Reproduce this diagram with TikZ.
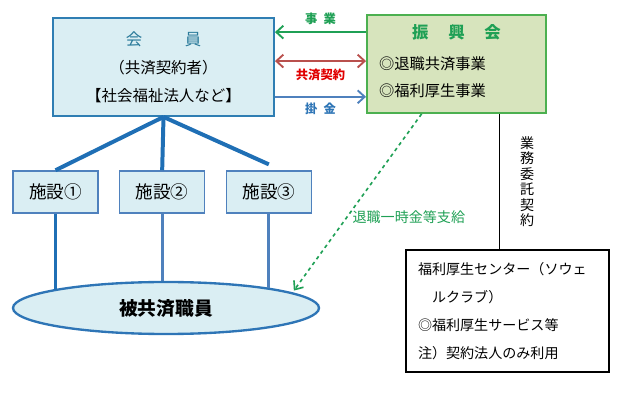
\documentclass[tikz,border=0pt]{standalone}
\usepackage{fontspec}
\setmainfont{Noto Sans CJK JP}
\usepackage{tikz}
\usetikzlibrary{positioning, arrows.meta,
shapes.geometric, % for the ellipse of the members
calc
}
\definecolor{kaiinfill}{HTML}{DAEEF3}
\definecolor{kaiinline}{HTML}{2F7EB3}
\definecolor{kaiintext}{HTML}{2A7A9A}
\definecolor{shinkofill}{HTML}{D7E4BD}
\definecolor{shinkoline}{HTML}{4CB050}
\definecolor{jigyogreen}{HTML}{1FA055}
\definecolor{keiyakured}{HTML}{B9504D}
\definecolor{keiyakutext}{HTML}{E00000}
\definecolor{kakeblue}{HTML}{4F81BD}
\definecolor{kaketext}{HTML}{2E75B6}
\definecolor{edablue}{HTML}{1F6FB5}

\begin{document}
\begin{tikzpicture}[x=0.03cm, y=-0.03cm, node distance=3.2cm,
    kaiinbox/.style={draw=kaiinline, fill=kaiinfill, line width=1.6pt, minimum width=6.63cm, minimum height=2.94cm, align=center, font=\fontsize{13.2}{23.8}\selectfont},
    shinkobox/.style={draw=shinkoline, fill=shinkofill, line width=1.6pt, minimum width=5.37cm, minimum height=2.94cm},
    shisetsubox/.style={draw=kakeblue, fill=kaiinfill, line width=1.3pt, minimum width=2.55cm, minimum height=1.26cm, font=\fontsize{15}{18}\selectfont},
    label/.style={font=\fontsize{10.5}{12}\selectfont\bfseries},
    barb/.style={-{Straight Barb[length=6pt, width=11pt]}, line width=1.6pt}
  ]
    \useasboundingbox (0,0) rectangle (637,401);

    \node[kaiinbox] (kaiin) at (163.5,67) {{\fontsize{14}{23.8}\selectfont\color{kaiintext}会\hspace{2.6em}員}\\（共済契約者）\\【社会福祉法人など】};
    \node[shinkobox] (shinko) at (456.5,64) {};
    \node[font=\fontsize{14}{16}\selectfont\bfseries, text=jigyogreen] (shinkotitle) at ([yshift=-15.3pt]shinko.north) {振\hspace{1.2em}興\hspace{1.2em}会};
    \node[anchor=west, inner sep=0pt, align=left, font=\fontsize{13}{23}\selectfont] (shinkoitems) at ([xshift=11pt, yshift=-11.5pt]shinko.west) {◎退職共済事業\\◎福利厚生事業};

    % arrows between the member box and the association
    \coordinate (jigyo) at ([yshift=27.2pt]shinko.west);
    \coordinate (keiyaku) at ([yshift=2.5pt]shinko.west);
    \coordinate (kakekin) at ([yshift=-28pt]shinko.west);
    \draw[barb, draw=jigyogreen] (jigyo) -- (jigyo -| kaiin.east) node[midway, above=2pt, label, text=jigyogreen] {事\hspace{0.5em}業};
    \draw[barb, {Straight Barb[length=6pt, width=11pt]}-{Straight Barb[length=6pt, width=11pt]}, draw=keiyakured] (keiyaku -| kaiin.east) -- (keiyaku) node[midway, below=3pt, label, text=keiyakutext] {共済契約};
    \draw[barb, draw=kakeblue] (kakekin -| kaiin.east) -- (kakekin) node[midway, below=1pt, label, text=kaketext] {掛\hspace{0.5em}金};

    \node[shisetsubox] (shisetsu1) at (55.5,192) {施設①};
    \node[shisetsubox, right of=shisetsu1] (shisetsu2) {施設②};
    \node[shisetsubox, right of=shisetsu2] (shisetsu3) {施設③};
    \draw[edablue, line width=3.4pt] (kaiin.south) -- (shisetsu1.north);
    \draw[edablue, line width=3.4pt] (kaiin.south) -- (shisetsu2.north);
    \draw[edablue, line width=3.4pt] (kaiin.south) -- ([yshift=5pt]shisetsu3.north);

    \node[ellipse, draw=kaketext, fill=kaiinfill, line width=2pt, minimum width=9.18cm, minimum height=1.56cm, inner sep=0pt, font=\fontsize{16}{18}\selectfont\bfseries] (hikyosai) at (166,308) {被共済職員};
    \draw[edablue, line width=2.6pt] (shisetsu1.south) -- (shisetsu1.south |- hikyosai.171);
    \draw[kakeblue, line width=2.6pt] (shisetsu2.south) -- (shisetsu2.south |- hikyosai.north);
    \draw[kakeblue, line width=2.6pt] (shisetsu3.south) -- (shisetsu3.south |- hikyosai.11);

    % payment to the members
    \coordinate (shikyu) at ($(shinko.south west)!0.307!(shinko.south east)$);
    \draw[jigyogreen, dashed, line width=1.4pt, -{Straight Barb[length=6pt, width=10pt]}, shorten >=2pt] (shikyu) -- (hikyosai.7) node[pos=0.58, right=1pt, font=\fontsize{12}{14}\selectfont, text=jigyogreen] {退職一時金等支給};

    \node[draw, line width=1pt, minimum width=6.09cm, minimum height=3.66cm, inner xsep=0.36cm, text width=5.37cm, align=left, font=\fontsize{12}{24}\selectfont] (welcenter) at (507.5,311) {福利厚生センター（ソウェ\\\hspace{1em}ルクラブ）\\◎福利厚生サービス等\\注）契約法人のみ利用};
    \coordinate (itaku) at ($(shinko.south west)!0.737!(shinko.south east)$);
    \draw[line width=0.8pt] (itaku) -- (itaku |- welcenter.north) node[midway, right=14pt, align=center, font=\fontsize{12}{13.2}\selectfont] {業\\務\\委\\託\\契\\約};
\end{tikzpicture}
\end{document}
